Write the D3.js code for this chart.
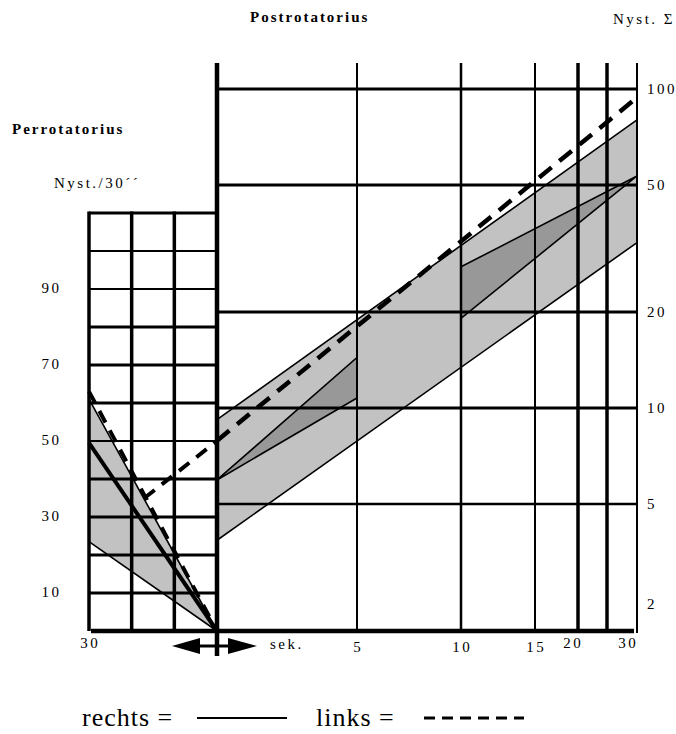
<!DOCTYPE html>
<html>
<head>
<meta charset="utf-8">
<script src="https://cdn.jsdelivr.net/npm/d3@7"></script>
<style>
  body { margin: 0; background: #fff; }
  text { font-family: "Liberation Serif", "DejaVu Serif", serif; fill: #000; }
</style>
</head>
<body>
<div id="chart"></div>
<script>
// Perrotatorius (left panel): seconds counting down to 0, Nyst./30''
const leftSec = [30, 20, 10, 0];
const leftGrid = [10, 20, 30, 40, 50, 60, 70, 80, 90, 100, 110];
const leftLabels = [10, 30, 50, 70, 90];

// Postrotatorius (right panel): seconds after stop, Nyst. sum (log)
const rightSec = [0, 5, 10, 15, 20, 25, 30];
const rightSecLabels = [5, 10, 15, 20, 30];
const rightGrid = [5, 10, 20, 50, 100];
const rightLabels = [2, 5, 10, 20, 50, 100];

// series as [sec, value]
const perBandTop = [[30, 61], [0, 0]];
const perBandBottom = [[30, 23.5], [0, 0]];
const perRechts = [[30, 49.5], [0, 0]];
const perLinks = [[30, 63], [0, 0]];
const perLinksRise = [[17, 35], [0, 50]];

const postBandTop = [[0, 9.2], [30, 80]];
const postBandBottom = [[0, 3.85], [30, 33]];
const postTriA = [[0, 5.95], [5, 14.4], [5, 10.75]];
const postTriB = [[10, 27.7], [10, 19.1], [30, 53.4]];
const postLinks = [[0, 7.9], [30, 94]];

const width = 676;
const height = 734;
const topY = 63;

const svg = d3
  .select("#chart")
  .append("svg")
  .attr("width", width)
  .attr("height", height);

const xL = d3.scaleLinear().domain([30, 0]).range([89, 217]);
const yL = d3.scaleLinear().domain([0, 110]).range([631, 213]);
const xR = d3.scaleLinear().domain(rightSec).range([217, 357, 461, 535, 578, 607, 637]);
const yR = d3.scaleLog().domain([2, 100]).range([631, 89]);

const lineL = d3.line().x((d) => xL(d[0])).y((d) => yL(d[1]));
const lineR = d3.line().x((d) => xR(d[0])).y((d) => yR(d[1]));

const light = "#c2c2c2";
const dark = "#989898";

// fills
svg.append("path")
  .attr("d", lineL(perBandTop.concat(perBandBottom.slice().reverse())) + "Z")
  .attr("fill", light);

svg.append("path")
  .attr("d", lineR(postBandTop.concat(postBandBottom.slice().reverse())) + "Z")
  .attr("fill", light);

[postTriA, postTriB].forEach((tri) => {
  svg.append("path")
    .attr("d", lineR(tri) + "Z")
    .attr("fill", dark)
    .attr("stroke", "#000")
    .attr("stroke-width", 1.6);
});

// grid, left panel
const grid = svg.append("g").attr("stroke", "#000");

grid.selectAll(".lh")
  .data(leftGrid)
  .enter()
  .append("line")
  .attr("x1", xL(30))
  .attr("x2", xL(0))
  .attr("y1", (d) => yL(d))
  .attr("y2", (d) => yL(d))
  .attr("stroke-width", (d) => ([50, 90, 100].includes(d) ? 2 : 3));

grid.selectAll(".lv")
  .data(leftSec.filter((d) => d !== 0))
  .enter()
  .append("line")
  .attr("x1", (d) => xL(d))
  .attr("x2", (d) => xL(d))
  .attr("y1", yL(110) - 1.5)
  .attr("y2", yL(0))
  .attr("stroke-width", 3.5);

// grid, right panel
grid.selectAll(".rh")
  .data(rightGrid)
  .enter()
  .append("line")
  .attr("x1", xR(0))
  .attr("x2", xR(30))
  .attr("y1", (d) => yR(d))
  .attr("y2", (d) => yR(d))
  .attr("stroke-width", (d) => (d === 5 ? 2.5 : 3));

grid.selectAll(".rv")
  .data(rightSec.filter((d) => d !== 0))
  .enter()
  .append("line")
  .attr("x1", (d) => xR(d))
  .attr("x2", (d) => xR(d))
  .attr("y1", topY)
  .attr("y2", (d) => (d === 30 ? yR(2) + 2 : yR(2)))
  .attr("stroke-width", (d) => (d === 20 || d === 25 ? 3.5 : d === 10 ? 2.5 : 2));

// main axes
grid.append("line")
  .attr("x1", xL(30) + 2).attr("x2", xR(30) - 3)
  .attr("y1", yL(0)).attr("y2", yL(0))
  .attr("stroke-width", 4.5);

grid.append("line")
  .attr("x1", xR(0)).attr("x2", xR(0))
  .attr("y1", topY).attr("y2", 656)
  .attr("stroke-width", 4.5);

// arrows under the zero line
const arrowY = 646;
svg.append("line")
  .attr("x1", 196).attr("x2", 232)
  .attr("y1", arrowY).attr("y2", arrowY)
  .attr("stroke", "#000").attr("stroke-width", 3);
svg.append("path")
  .attr("d", `M172,${arrowY} L200,${arrowY - 8} L200,${arrowY + 8} Z`)
  .attr("fill", "#000");
svg.append("path")
  .attr("d", `M257,${arrowY} L228,${arrowY - 8} L228,${arrowY + 8} Z`)
  .attr("fill", "#000");

// data lines, left
svg.append("path").attr("d", lineL(perBandTop))
  .attr("fill", "none").attr("stroke", "#000").attr("stroke-width", 1.6);
svg.append("path").attr("d", lineL(perBandBottom))
  .attr("fill", "none").attr("stroke", "#000").attr("stroke-width", 1.6);
svg.append("path").attr("d", lineL(perRechts))
  .attr("fill", "none").attr("stroke", "#000").attr("stroke-width", 4);
[perLinks, perLinksRise].forEach((s) => {
  svg.append("path").attr("d", lineL(s))
    .attr("fill", "none").attr("stroke", "#000")
    .attr("stroke-width", 4).attr("stroke-dasharray", "13,9");
});

// data lines, right
[postBandTop, postBandBottom].forEach((s) => {
  svg.append("path").attr("d", lineR(s))
    .attr("fill", "none").attr("stroke", "#000").attr("stroke-width", 1.6);
});
svg.append("path").attr("d", lineR(postLinks))
  .attr("fill", "none").attr("stroke", "#000")
  .attr("stroke-width", 4.5).attr("stroke-dasharray", "16,10");

// tick labels
const ls = 2.5;
const tick = svg.append("g")
  .style("font-family", "'DejaVu Serif', serif")
  .style("font-size", "15px")
  .style("letter-spacing", ls + "px");

tick.selectAll(".ll")
  .data(leftLabels)
  .enter()
  .append("text")
  .attr("x", 59 + ls)
  .attr("y", (d) => yL(d) + 4)
  .attr("text-anchor", "end")
  .text((d) => d);

tick.selectAll(".rl")
  .data(rightLabels)
  .enter()
  .append("text")
  .attr("x", 647)
  .attr("y", (d) => (d === 2 ? yR(d) - 22 : yR(d) + 5))
  .text((d) => d);

tick.selectAll(".bl")
  .data(rightSecLabels)
  .enter()
  .append("text")
  .attr("x", (d) => xR(d) + ls / 2 + (d === 20 ? -6 : d === 30 ? -10 : 0))
  .attr("y", (d) => (d >= 20 ? 648 : 652))
  .attr("text-anchor", "middle")
  .text((d) => d);

tick.append("text")
  .attr("x", xL(30) + ls / 2).attr("y", 648)
  .attr("text-anchor", "middle")
  .text(leftSec[0]);

tick.append("text")
  .attr("x", 270).attr("y", 649)
  .text("sek.");

tick.append("text")
  .attr("x", 54).attr("y", 188)
  .text("Nyst./30´´");

tick.append("text")
  .attr("x", 613).attr("y", 24)
  .text("Nyst. Σ");

// titles
const title = svg.append("g")
  .style("font-family", "'DejaVu Serif', serif")
  .style("font-size", "15px")
  .style("font-weight", "bold")
  .style("letter-spacing", "2px");

title.append("text")
  .attr("x", 250).attr("y", 22)
  .text("Postrotatorius");

title.append("text")
  .attr("x", 12).attr("y", 134)
  .text("Perrotatorius");

// legend
const legend = svg.append("g")
  .style("font-family", "'Liberation Serif', serif")
  .style("font-size", "26px")
  .style("letter-spacing", "1px");
legend.append("text").attr("x", 82).attr("y", 726).text("rechts =");
legend.append("text").attr("x", 316).attr("y", 726).text("links =");
svg.append("line")
  .attr("x1", 197).attr("x2", 287).attr("y1", 718).attr("y2", 718)
  .attr("stroke", "#000").attr("stroke-width", 2);
svg.append("line")
  .attr("x1", 424).attr("x2", 524).attr("y1", 718).attr("y2", 718)
  .attr("stroke", "#000").attr("stroke-width", 3).attr("stroke-dasharray", "11,7");
</script>
</body>
</html>
